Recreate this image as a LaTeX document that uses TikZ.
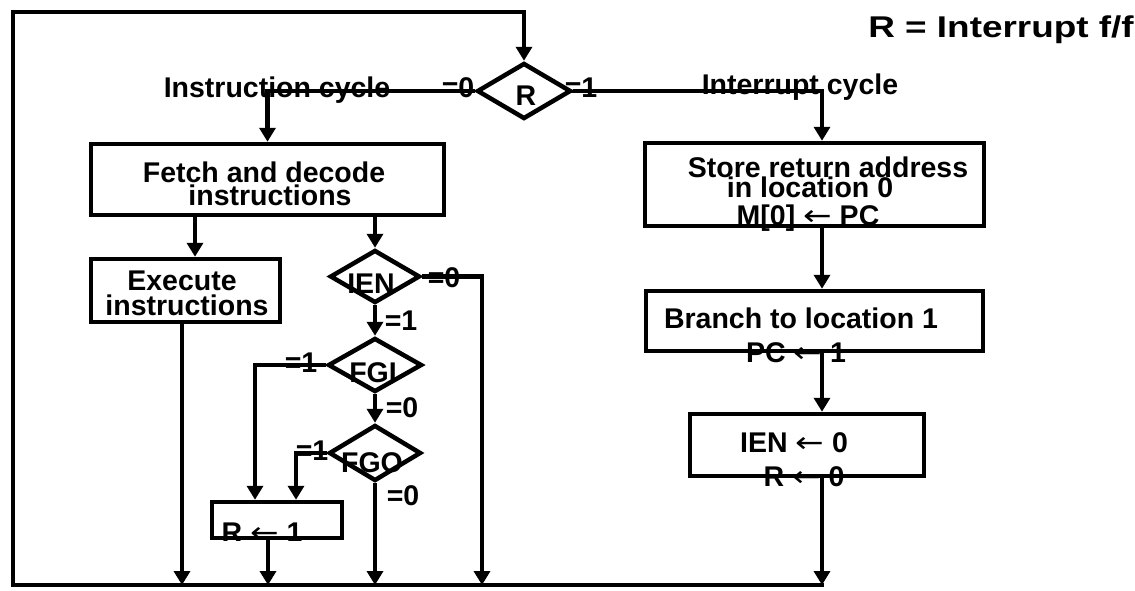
\documentclass[tikz,border=0pt]{standalone}
\usepackage{graphicx}
\usepackage{fontspec}
\setmainfont{Liberation Sans}
\newfontfamily\headfont{Liberation Sans}[FakeStretch=1.23]
\newfontfamily\arrowglyphs{DejaVu Sans}
\usetikzlibrary{shapes.geometric,arrows.meta}

% register-transfer arrow used inside the boxes
\newcommand\assignarrow{\scalebox{1.2}[1]{\arrowglyphs\mdseries ←}}

\tikzset{
  flow/.style={line width=4.5pt},
  arr/.style={flow, -{Triangle[width=16pt,length=14pt]}},
  box/.style={draw, rectangle, line width=4.5pt, inner sep=0pt},
  test/.style={draw, diamond, line width=4.5pt, inner sep=0pt},
  txt/.style={font=\bfseries\fontsize{28.5}{30}\selectfont, inner sep=0pt, anchor=base},
}

\begin{document}
\begin{tikzpicture}[x=1pt, y=-1pt]
\useasboundingbox (0,0) rectangle (1135,590);

% ---- decision diamonds ----
\node[test, minimum width=94pt, minimum height=56pt] (dR)   at (524,91)  {};
\node[test, minimum width=90pt, minimum height=53pt] (dIEN) at (375,276.5) {};
\node[test, minimum width=94pt, minimum height=54pt] (dFGI) at (375,365) {};
\node[test, minimum width=92pt, minimum height=56pt] (dFGO) at (375,453) {};

% ---- process boxes ----
\node[box, minimum width=353pt, minimum height=71pt] (bFetch)  at (267.5,179.5) {};
\node[box, minimum width=189pt, minimum height=63pt] (bExec)   at (185.5,290.5) {};
\node[box, minimum width=130pt, minimum height=36pt] (bR1)     at (277,520) {};
\node[box, minimum width=339pt, minimum height=83pt] (bStore)  at (814.5,184.5) {};
\node[box, minimum width=337pt, minimum height=60pt] (bBranch) at (814.5,321) {};
\node[box, minimum width=234pt, minimum height=62pt] (bIENz)   at (807,445) {};

% ---- texts ----
\node[anchor=base, inner sep=0pt, font=\headfont\bfseries\fontsize{30}{32}\selectfont] (title) at (1001,37) {R = Interrupt f/f};
\node[txt] (tInstr) at (277,97) {Instruction cycle};
\node[txt] (tIntr)  at (800,94) {Interrupt cycle};
\node[txt] (tR0)    at (458,97) {=0};
\node[txt] (tR1)    at (581,97) {=1};
\node[txt] (tRd)    at (526,105) {R};

\node[txt] (tFetchA) at (264,182) {Fetch and decode};
\node[txt] (tFetchB) at (270,205) {instructions};
\node[txt] (tExecA)  at (182,290) {Execute};
\node[txt] (tExecB)  at (187,315) {instructions};

\node[txt] (tIEN)  at (371,293) {IEN};
\node[txt] (tIEN0) at (444,287) {=0};
\node[txt] (tIEN1) at (401,330) {=1};
\node[txt] (tFGI)  at (373,382) {FGI};
\node[txt] (tFGI1) at (301,372) {=1};
\node[txt] (tFGI0) at (402,417) {=0};
\node[txt] (tFGO)  at (372,472) {FGO};
\node[txt] (tFGO1) at (312,460) {=1};
\node[txt] (tFGO0) at (403,505) {=0};

\begin{scope}
  \clip (bR1.south west) rectangle (bR1.north east);
  \node[txt] (tRset) at (262,542) {R \assignarrow\ 1};
\end{scope}

\node[txt] (tStoreA) at (828,177) {Store return address};
\node[txt] (tStoreB) at (810,197) {in location 0};
\node[txt] (tStoreC) at (808,225) {M[0] \assignarrow\ PC};
\node[txt] (tBrA)    at (801,328) {Branch to location 1};
\node[txt] (tBrB)    at (796,362) {PC \assignarrow\ 1};
\node[txt] (tClrA)   at (794,452) {IEN \assignarrow\ 0};
\node[txt] (tClrB)   at (804,486) {R \assignarrow\ 0};

% ---- routing columns and the return loop ----
\coordinate (tl) at (13,12);
\coordinate (bl) at (13,585);
\coordinate (br) at (824,585);
\coordinate (xFetch) at (195,0);
\coordinate (xExec)  at (182,0);
\coordinate (xSkip)  at (482,0);
\coordinate (xIn)    at (255,0);
\coordinate (xOut)   at (296,0);
\coordinate (xSet)   at (268,0);
\coordinate (xRight) at (822,0);

\draw[arr] (br) -- (bl) -- (tl) -- (tl -| dR.north) -- (dR.north);

% ---- instruction cycle ----
\draw[arr] (dR.west) -| (bFetch.north);
\draw[arr] (bFetch.south -| xFetch) -- (bExec.north -| xFetch);
\draw[arr] (bFetch.south -| dIEN.north) -- (dIEN.north);
\draw[arr] (bExec.south -| xExec) -- (xExec |- bl);
\draw[arr] (dIEN.east) -| (xSkip |- bl);
\draw[arr] (dIEN.south) -- (dFGI.north);
\draw[arr] (dFGI.west) -| (bR1.north -| xIn);
\draw[arr] (dFGI.south) -- (dFGO.north);
\draw[arr] (dFGO.west) -| (bR1.north -| xOut);
\draw[arr] (dFGO.south) -- (dFGO.south |- bl);
\draw[arr] (bR1.south -| xSet) -- (xSet |- bl);

% ---- interrupt cycle ----
\draw[arr] (dR.east) -| (bStore.north -| xRight);
\draw[arr] (bStore.south -| xRight) -- (bBranch.north -| xRight);
\draw[arr] (bBranch.south -| xRight) -- (bIENz.north -| xRight);
\draw[arr] (bIENz.south -| xRight) -- (xRight |- br);
\end{tikzpicture}
\end{document}
